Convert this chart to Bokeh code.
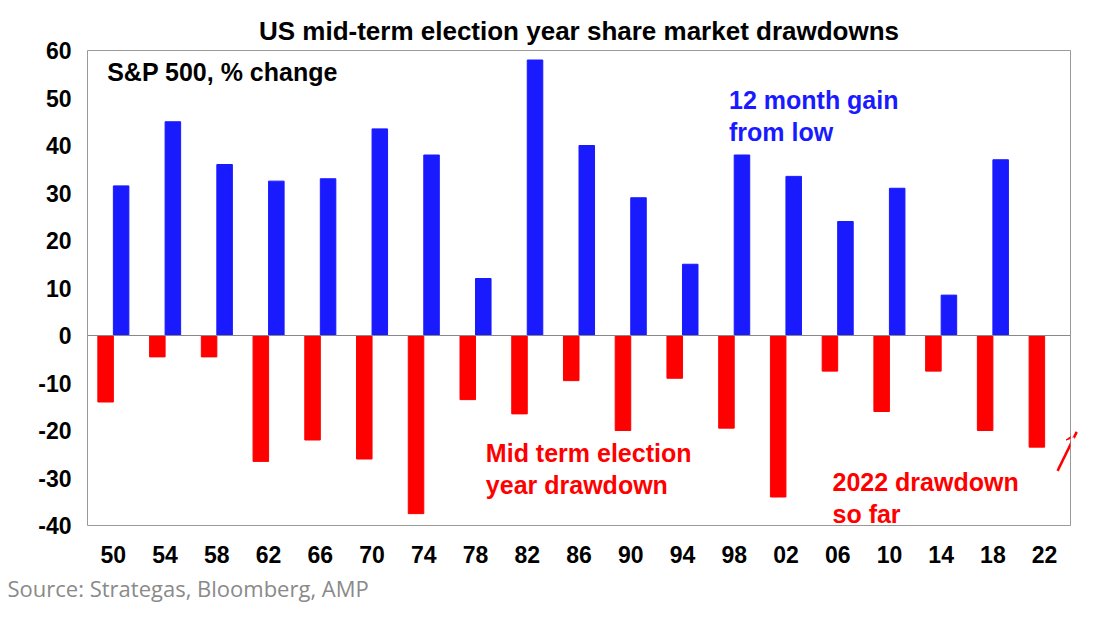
from bokeh.plotting import figure
from bokeh.models import Label, Span, Arrow, VeeHead, Title, FixedTicker
from bokeh.embed import file_html
from bokeh.resources import INLINE

years = ["50","54","58","62","66","70","74","78","82","86","90","94","98","02","06","10","14","18","22"]
drawdown = [-14,-4.5,-4.5,-26.5,-22,-26,-37.5,-13.5,-16.5,-9.5,-20,-9,-19.5,-34,-7.5,-16,-7.5,-20,-23.5]
gain = [31.5,45,36,32.5,33,43.5,38,12,58,40,29,15,38,33.5,24,31,8.5,37]
yticks = list(range(-40, 61, 10))

idx = list(range(len(years)))
FONT = "Liberation Sans"

p = figure(width=1082, height=621, output_backend="svg", toolbar_location=None,
           x_range=(-0.5, len(years)-0.5), y_range=(-40, 60),
           min_border_left=87, min_border_right=12, min_border_bottom=96, min_border_top=50)
p.title.text = "US mid-term election year share market drawdowns"
p.title.align = "center"
p.title.text_font = FONT
p.title.text_font_size = "26px"
p.title.text_font_style = "bold"
p.title.text_color = "black"

p.vbar(x=[i-0.15 for i in idx], top=drawdown, bottom=0, width=0.3, color="#ff0000")
p.vbar(x=[i+0.15 for i in idx[:len(gain)]], top=gain, bottom=0, width=0.3, color="#1a1aff")

p.add_layout(Span(location=0, dimension="width", line_color="#888888", line_width=1))

p.xgrid.visible = False
p.ygrid.visible = False
p.outline_line_color = "#999999"
p.xaxis.ticker = FixedTicker(ticks=idx)
p.xaxis.major_label_overrides = {i: y for i, y in enumerate(years)}
p.yaxis.ticker = FixedTicker(ticks=yticks)
p.yaxis.major_label_overrides = {t: str(t) for t in yticks}
for ax in (p.xaxis[0], p.yaxis[0]):
    ax.axis_line_color = None
    ax.major_tick_line_color = None
    ax.minor_tick_line_color = None
    ax.major_label_text_font = FONT
    ax.major_label_text_font_size = "23px"
    ax.major_label_text_font_style = "bold"
    ax.major_label_text_color = "black"
p.xaxis.major_label_standoff = 14
p.yaxis.major_label_standoff = 10

def lab(x, y, t, c):
    p.add_layout(Label(x=x, y=y, text=t, text_color=c, text_font=FONT, text_font_size="25px",
                       text_font_style="bold", text_baseline="top", text_line_height=1.15))

lab(-0.12, 58.5, "S&P 500, % change", "black")
lab(11.9, 52.5, "12 month gain\nfrom low", "#1a1aff")
lab(7.2, -21.8, "Mid term election\nyear drawdown", "#ff0000")
lab(13.9, -27.8, "2022 drawdown\nso far", "#ff0000")

p.add_layout(Arrow(x_start=18.25, y_start=-28.5, x_end=18.62, y_end=-20.3, line_color="#ff0000",
                   line_width=2.5, end=VeeHead(size=12, fill_color="#ff0000", line_color="#ff0000")))

src = Title(text="Source: Strategas, Bloomberg, AMP", align="left", text_font="Open Sans",
            text_font_size="22px", text_font_style="normal", text_color="#8a8a8a", offset=-80)
p.add_layout(src, "below")

open("out.html", "w").write(file_html(p, INLINE))
